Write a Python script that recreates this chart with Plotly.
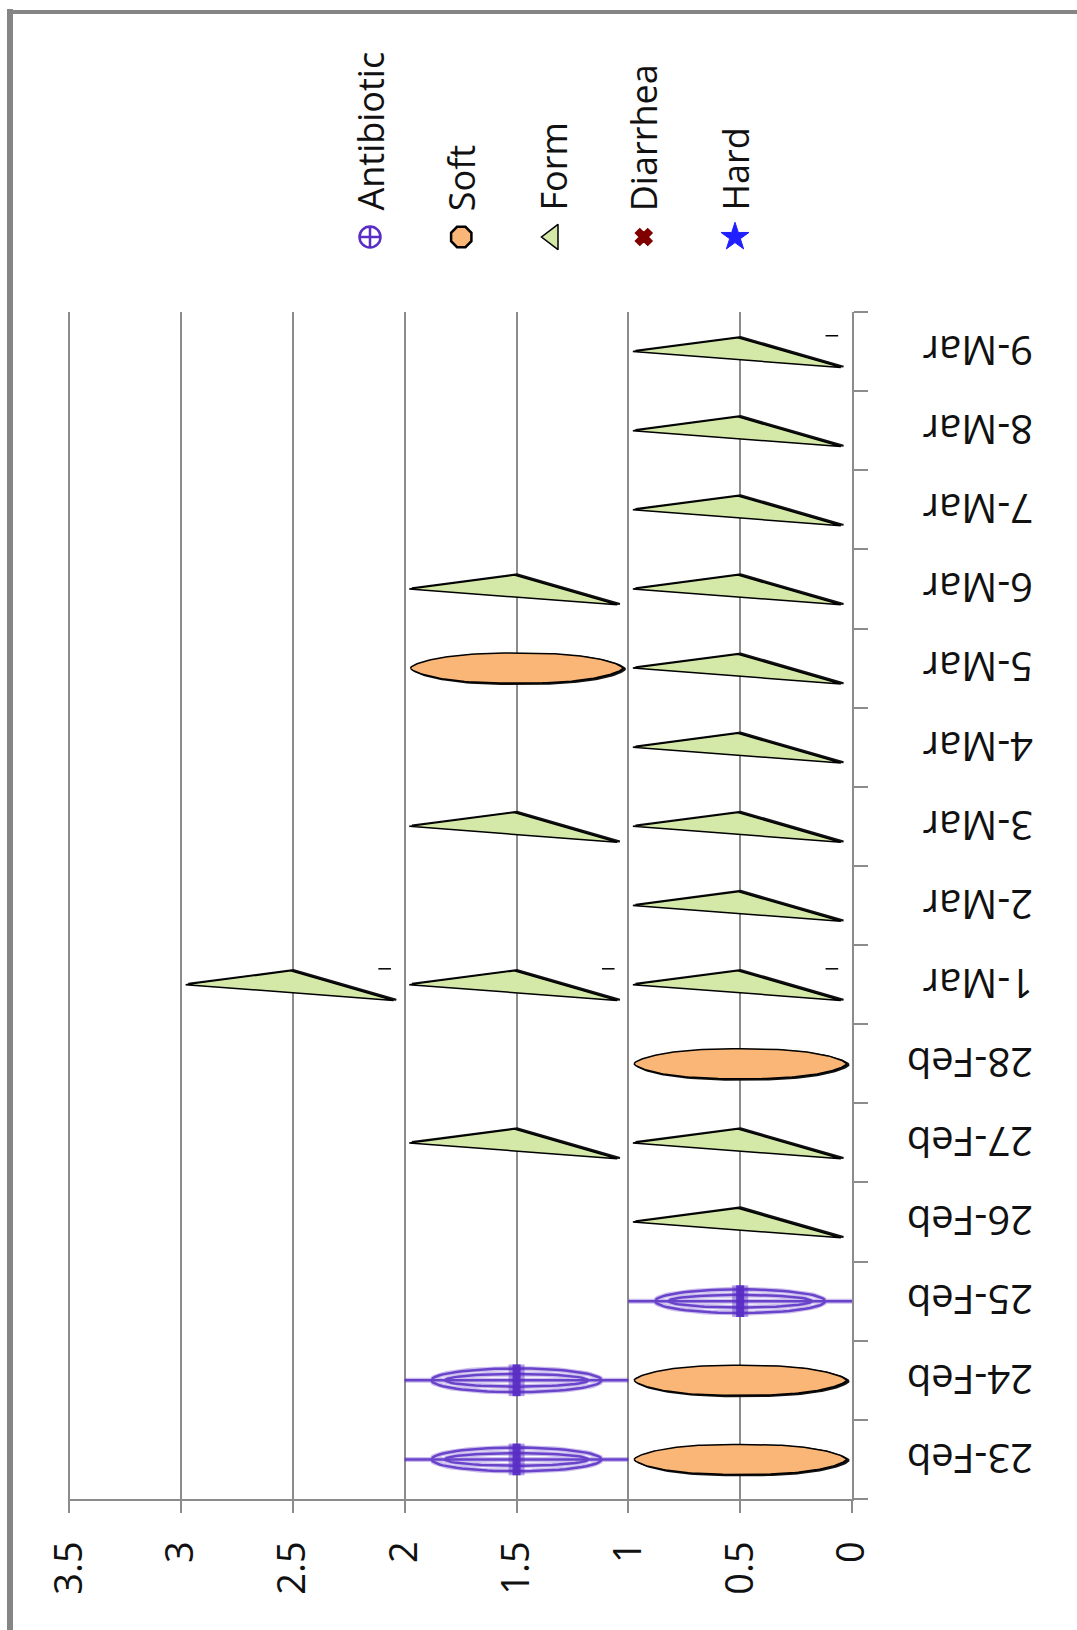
import numpy as np
import plotly.graph_objects as go

# ---- data -------------------------------------------------------------
dates = ["23-Feb", "24-Feb", "25-Feb", "26-Feb", "27-Feb", "28-Feb",
         "1-Mar", "2-Mar", "3-Mar", "4-Mar", "5-Mar", "6-Mar",
         "7-Mar", "8-Mar", "9-Mar"]

antibiotic_dates = ["23-Feb", "24-Feb", "25-Feb"]
antibiotic_values = [1.5, 1.5, 0.5]

soft_dates = ["23-Feb", "24-Feb", "28-Feb", "5-Mar"]
soft_values = [0.5, 0.5, 0.5, 1.5]

form_dates = ["26-Feb", "27-Feb", "27-Feb", "1-Mar", "1-Mar", "1-Mar",
              "2-Mar", "3-Mar", "3-Mar", "4-Mar", "5-Mar", "6-Mar",
              "6-Mar", "7-Mar", "8-Mar", "9-Mar"]
form_values = [0.5, 0.5, 1.5, 0.5, 1.5, 2.5,
               0.5, 0.5, 1.5, 0.5, 0.5, 0.5,
               1.5, 0.5, 0.5, 0.5]

diarrhea_dates, diarrhea_values = [], []
hard_dates, hard_values = [], []

dash_dates = ["1-Mar", "1-Mar", "1-Mar", "9-Mar"]
dash_values = [0.09, 1.09, 2.09, 0.09]

value_ticks = [0, 0.5, 1, 1.5, 2, 2.5, 3, 3.5]
value_tick_labels = ["0", "0.5", "1", "1.5", "2", "2.5", "3", "3.5"]

legend_names = ["Antibiotic", "Soft", "Form", "Diarrhea", "Hard"]

# ---- styling ----------------------------------------------------------
W, H = 1077, 1630
FONT = "Open Sans"
GRID = "#8c8c8c"
PURPLE = "#5a2ec6"
ORANGE = "#f9b677"
GREEN = "#d4e8a8"
DARKRED = "#800000"
BLUE = "#1f1fff"


def cat_pos(d):
    return dates.index(d) + 0.5


def join(paths):
    xs, ys = [], []
    for px, py in paths:
        xs += list(px) + [None]
        ys += list(py) + [None]
    return xs, ys


def triangle(v, c, dx=0.0, dy=0.0):
    px = np.array([v + 0.48, v + 0.01, v - 0.45, v + 0.48]) + dx
    py = np.array([c, c + 0.175, c - 0.2, c]) + dy
    return px, py


def blob(v, c, dx=0.0, dy=0.0):
    # lens shape: flat across the middle, tapering towards both ends
    t = np.linspace(0, 2 * np.pi, 181)
    ct, st = np.cos(t), np.sin(t)
    px = v + 0.475 * np.sign(ct) * np.abs(ct) ** (2 / 2.5) + dx
    py = c + 0.19 * np.sign(st) * np.abs(st) ** (2 / 1.5) + dy
    return px, py


def ellipse(v, c, a, b):
    t = np.linspace(0, 2 * np.pi, 73)
    return v + a * np.cos(t), c + b * np.sin(t)


fig = go.Figure()

# Form: elongated triangles with a dark drop shadow
sx, sy = join([triangle(v, cat_pos(d), -0.012, 0.01)
               for d, v in zip(form_dates, form_values)])
fig.add_trace(go.Scatter(x=sx, y=sy, mode="lines", fill="toself",
                         fillcolor="#111111", line=dict(color="#111111", width=2),
                         hoverinfo="skip", showlegend=False))
fx, fy = join([triangle(v, cat_pos(d)) for d, v in zip(form_dates, form_values)])
fig.add_trace(go.Scatter(x=fx, y=fy, mode="lines", fill="toself", name="Form",
                         fillcolor=GREEN, line=dict(color="#000000", width=1.5),
                         hoverinfo="skip", showlegend=False))

# Soft: orange blobs with shadowed outline
sx, sy = join([blob(v, cat_pos(d), -0.01, -0.012)
               for d, v in zip(soft_dates, soft_values)])
fig.add_trace(go.Scatter(x=sx, y=sy, mode="lines", fill="toself",
                         fillcolor="#111111", line=dict(color="#111111", width=2),
                         hoverinfo="skip", showlegend=False))
bx, by = join([blob(v, cat_pos(d)) for d, v in zip(soft_dates, soft_values)])
fig.add_trace(go.Scatter(x=bx, y=by, mode="lines", fill="toself", name="Soft",
                         fillcolor=ORANGE, line=dict(color="#000000", width=1.5),
                         hoverinfo="skip", showlegend=False))

# Antibiotic: stretched circle-cross
paths = []
for d, v in zip(antibiotic_dates, antibiotic_values):
    c = cat_pos(d)
    paths.append(ellipse(v, c, 0.38, 0.15))
    paths.append(ellipse(v, c, 0.32, 0.08))
    paths.append(([v - 0.5, v + 0.5], [c, c]))
ax_, ay_ = join(paths)
fig.add_trace(go.Scatter(x=ax_, y=ay_, mode="lines",
                         line=dict(color=PURPLE, width=5), opacity=0.3,
                         hoverinfo="skip", showlegend=False))
fig.add_trace(go.Scatter(x=ax_, y=ay_, mode="lines", name="Antibiotic",
                         line=dict(color=PURPLE, width=2.5), opacity=0.85,
                         hoverinfo="skip", showlegend=False))
vx, vy = join([([v, v], [cat_pos(d) - 0.2, cat_pos(d) + 0.2])
               for d, v in zip(antibiotic_dates, antibiotic_values)])
fig.add_trace(go.Scatter(x=vx, y=vy, mode="lines",
                         line=dict(color=PURPLE, width=16), opacity=0.45,
                         hoverinfo="skip", showlegend=False))
fig.add_trace(go.Scatter(x=vx, y=vy, mode="lines",
                         line=dict(color=PURPLE, width=8), opacity=0.95,
                         hoverinfo="skip", showlegend=False))

# small dash marks
fig.add_trace(go.Scatter(x=dash_values, y=[cat_pos(d) + 0.2 for d in dash_dates],
                         mode="markers", hoverinfo="skip", showlegend=False,
                         marker=dict(symbol="line-ew", size=9,
                                     line=dict(color="#000000", width=1.5))))

# Diarrhea / Hard (no observations in the period)
fig.add_trace(go.Scatter(x=diarrhea_values, y=[cat_pos(d) for d in diarrhea_dates],
                         mode="markers", name="Diarrhea", showlegend=False,
                         marker=dict(symbol="x", color=DARKRED, size=14)))
fig.add_trace(go.Scatter(x=hard_values, y=[cat_pos(d) for d in hard_dates],
                         mode="markers", name="Hard", showlegend=False,
                         marker=dict(symbol="star", color=BLUE, size=18)))

# ---- legend (rotated text + marker row) --------------------------------
legend_symbols = ["circle-cross-open", "octagon", "triangle-left", "x", "star"]
legend_colors = [PURPLE, ORANGE, GREEN, DARKRED, BLUE]
legend_line_colors = [PURPLE, "#000000", "#000000", DARKRED, BLUE]
legend_line_widths = [2.5, 2.5, 1.5, 2, 1]
legend_sizes = [21, 22, 22, 14, 21]
idx = list(range(len(legend_names)))
fig.add_trace(go.Scatter(
    x=idx, y=[0] * len(idx), xaxis="x2", yaxis="y2", mode="markers",
    hoverinfo="skip", showlegend=False,
    marker=dict(symbol=legend_symbols, color=legend_colors, size=legend_sizes,
                opacity=1,
                line=dict(color=legend_line_colors, width=legend_line_widths))))
for i, name in enumerate(legend_names):
    fig.add_annotation(x=i, xref="x2", y=(H - 213) / H, yref="paper",
                       text=name, textangle=-90, showarrow=False,
                       xanchor="center", yanchor="bottom",
                       font=dict(family=FONT, size=36, color="#111111"))

# ---- layout -----------------------------------------------------------
x0, x1 = 68, 852
y_top, y_bot = 312, 1499
leg_x0, leg_dx = 370, 91.25
label_shift = 0.13  # keeps the upside-down date labels centred in their band

fig.update_layout(
    width=W, height=H,
    margin=dict(l=0, r=0, t=0, b=0, autoexpand=False),
    paper_bgcolor="white", plot_bgcolor="white",
    font=dict(family=FONT, size=38, color="#111111"),
    showlegend=False,
    xaxis=dict(domain=[x0 / W, x1 / W], range=[3.506, 0],
               tickvals=value_ticks, ticktext=value_tick_labels,
               tickangle=-90, ticks="outside", ticklen=12, tickwidth=2,
               tickcolor=GRID, showgrid=True, gridcolor=GRID, gridwidth=2,
               showline=True, linecolor=GRID, linewidth=2, zeroline=False,
               ticklabelstandoff=13, tickfont=dict(size=38)),
    yaxis=dict(domain=[(H - y_bot) / H, (H - y_top) / H], range=[0, len(dates)],
               side="right",
               tickvals=[k + 0.5 - label_shift for k in range(len(dates))],
               ticktext=dates, tickangle=180, ticks="", showgrid=False,
               showline=True, linecolor=GRID, linewidth=2, zeroline=False,
               ticklabelstandoff=171, tickfont=dict(size=40),
               minor=dict(tickvals=list(range(len(dates) + 1)), ticks="outside",
                          ticklen=14, tickwidth=2, tickcolor=GRID, showgrid=False)),
    xaxis2=dict(domain=[0, 1], range=[-leg_x0 / leg_dx, (W - leg_x0) / leg_dx],
                anchor="y2", visible=False, fixedrange=True),
    yaxis2=dict(domain=[(H - 262) / H, (H - 212) / H], range=[-1, 1],
                anchor="x2", visible=False, fixedrange=True),
    shapes=[
        dict(type="line", xref="paper", yref="paper", x0=10 / W, x1=10 / W,
             y0=0, y1=(H - 9) / H, line=dict(color="#858585", width=6)),
        dict(type="line", xref="paper", yref="paper", x0=7 / W, x1=1,
             y0=(H - 12) / H, y1=(H - 12) / H, line=dict(color="#858585", width=4)),
    ],
)

fig.write_html("out.html")
